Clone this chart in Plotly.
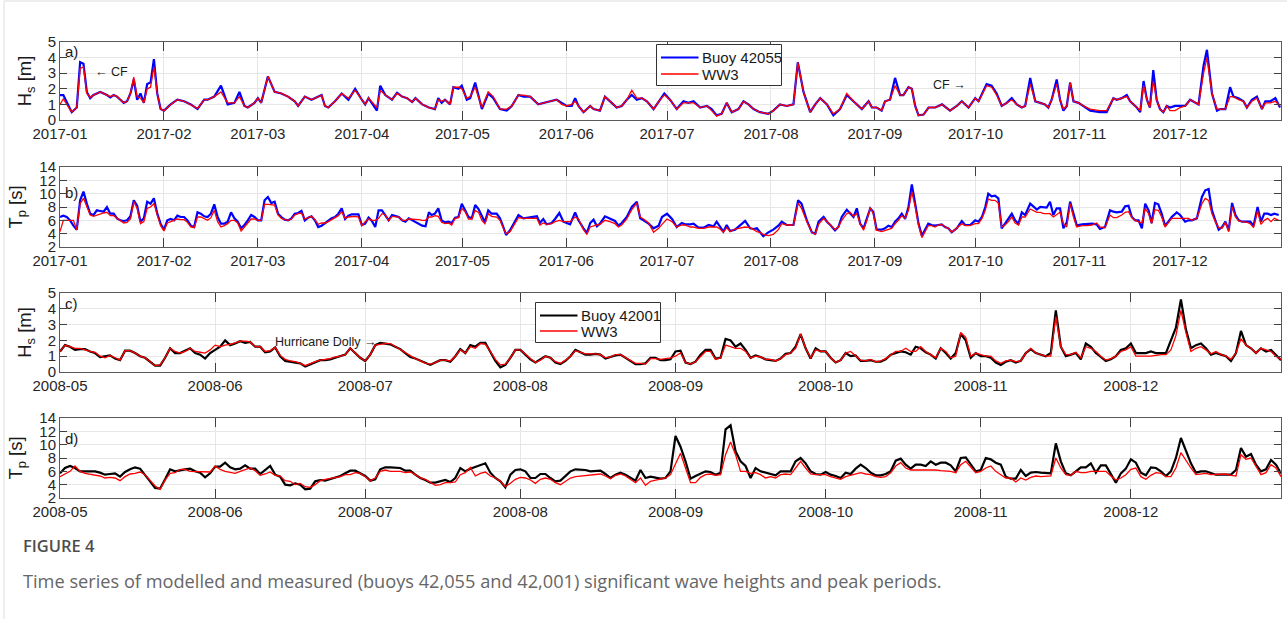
import pandas as pd
import plotly.graph_objects as go

# ---------------- Panel a: Hs, 2017, Buoy 42055 vs WW3 (day offsets from 2017-01-01)
a_day = [0, 1, 3.5, 5, 6, 7, 8, 9, 10, 12, 14, 15, 16, 17, 18, 19, 20, 21, 22, 23, 24, 25, 26, 27, 28, 29, 30, 31,
         33, 35, 37, 39, 41, 43, 44, 46, 48, 50, 52, 53.5, 55, 56, 58, 59, 60, 62, 64, 66, 68, 70, 71, 73, 75, 77, 78,
         79, 80, 82, 84, 86, 88, 90, 91, 92, 94.5, 95.5, 97, 99, 100.5, 102, 103.5, 105, 106, 108, 110,
         111.8, 112.8, 113.8, 114.8, 116.3, 117.3, 118.8, 119.8, 121.3, 122.3, 123.8, 124.8, 125.8, 127.7, 129.2,
         131.2, 133.2, 134.7, 136.7, 138.2, 140.2, 142.6, 144.6, 146.6, 148.1, 149.6, 151.1, 152.6, 153.6, 154.6,
         156.1, 158.1, 159.1, 161.0, 162.5, 164.5, 166.0, 167.5, 169.0, 170.5, 172.0, 173.5, 175.0, 177.0, 178.5,
         180.2, 181.9, 183.9, 185.9, 187.4, 188.9, 190.9, 192.9, 194.3, 195.8, 197.3, 198.8, 200.3, 202.3, 203.8,
         205.3, 206.8, 208.7, 211.2, 212.7, 214.7, 216.7, 218.7, 220.0, 221.7, 223.7, 225.2, 226.7, 228.7, 230.6,
         232.6, 234.6,
         236.6, 239.1, 241.1, 242.1, 243.5, 245.0, 246.0, 247.5, 249.0, 250.5, 251.5, 253.0, 254.0, 255.0, 256.0,
         257.5, 259.0, 261.0, 263.0, 265.4, 267.4, 268.9, 270.9, 272.9, 273.9, 276.3, 277.8, 279.3, 280.8, 282.3,
         283.8, 285.3, 286.8, 287.8, 289.3, 290.8, 292.3, 293.7, 294.7, 295.7, 297.2, 298.2, 299.2, 300.2, 301.2,
         302.2, 303.7, 305.2, 307.2, 310.1, 312.1, 314.1, 315.1, 316.6, 318.1, 319.1, 321.1, 322.1, 323.1, 324.1,
         325.0, 326.0, 327.0, 328.0, 329.0, 330.0, 331.0, 332.5, 334.0, 335.5, 337.0, 338.0, 339.5, 341.0, 342.0,
         343.5, 345.0, 346.0, 347.5, 348.9, 349.9, 351.4, 352.9, 353.9, 355.4, 356.9, 358.4, 359.4, 360.9, 362.4,
         363.8]
a_buoy = [1.6, 1.6, 0.5, 0.8, 3.7, 3.6, 1.8, 1.4, 1.6, 1.8, 1.6, 1.45, 1.6, 1.5, 1.3, 1.1, 1.2, 1.7, 2.6, 1.3, 1.7,
          1.1, 2.3, 2.4, 3.9, 1.7, 0.7, 0.6,
          1.0, 1.3, 1.2, 1.0, 0.7, 1.3, 1.3, 1.5, 2.2, 1.0, 1.1, 1.8, 0.9, 0.8, 1.1, 1.4, 1.1, 2.8, 1.8, 1.7, 1.5,
          1.2, 0.9, 1.5, 1.3, 1.5, 1.6,
          0.9, 0.8, 1.2, 1.7, 1.3, 2.0, 1.3, 1.0, 1.4, 0.6, 2.2, 1.6, 1.3, 1.75, 1.5, 1.4, 1.15, 1.4, 1.0, 0.8,
          0.7, 1.4, 1.1, 1.3, 1.0, 2.1, 2.0, 2.2, 1.3, 1.4, 2.4, 1.5, 0.7, 1.7, 1.4,
          0.7, 0.6, 0.9, 1.6, 1.5, 1.5, 1.0, 1.1, 1.2, 1.3, 1.1, 0.9, 0.9, 1.4, 0.9,
          0.5, 0.9, 0.7, 0.6, 1.5, 1.1, 0.8, 0.9, 1.3, 1.6, 1.3, 1.4, 1.2, 0.7, 1.2,
          1.7, 1.3, 0.7, 1.2, 1.1, 1.2, 0.8, 0.9, 0.7, 0.3, 0.4, 1.1, 0.5, 0.7, 1.2,
          1.0, 0.7, 0.5, 0.4, 0.6, 1.0, 0.9, 1.0, 3.7, 1.8, 0.5, 1.0, 1.4, 1.0, 0.3,
          0.7, 1.6,
          1.2, 0.7, 1.2, 0.8, 0.8, 0.6, 1.2, 1.3, 2.7, 1.6, 1.6, 2.1, 2.0, 0.9, 0.3,
          0.35, 0.8, 0.8, 1.0, 0.6, 0.9, 1.2, 0.8, 1.4, 1.2, 2.3, 2.2, 1.7, 0.9, 1.1,
          1.4, 1.0, 0.8, 0.9, 2.7, 1.2, 1.1, 1.0, 0.8, 1.3, 2.6, 1.3, 0.6, 0.9, 2.4,
          1.2, 1.1, 0.9, 0.6, 0.5, 0.5, 1.4, 1.3, 1.4, 1.6, 1.2, 0.8, 0.5, 2.5, 1.3,
          0.8, 3.2, 1.3, 0.7, 0.5, 0.9, 0.8, 0.9, 0.9, 0.9, 1.3, 1.2, 1.0, 3.5, 4.5,
          1.7, 0.6, 0.7, 0.7, 2.1, 1.5, 1.4, 1.2, 0.8, 1.3, 1.5, 0.7, 1.2, 1.2, 1.4,
          0.8]
a_ww3 = [1.0, 1.35, 0.5, 0.8, 3.3, 3.4, 1.7, 1.45, 1.6, 1.8, 1.6, 1.5, 1.6, 1.5, 1.3, 1.1, 1.2, 1.7, 2.75, 1.5, 1.4,
         1.1, 2.0, 2.1, 3.4, 1.7, 0.7, 0.6,
         1.0, 1.3, 1.2, 1.0, 0.75, 1.3, 1.3, 1.5, 1.8, 1.1, 1.1, 1.5, 0.9, 0.8, 1.1, 1.4, 1.1, 2.8, 1.8, 1.7, 1.5,
         1.2, 0.9, 1.5, 1.3, 1.5, 1.6,
         0.9, 0.8, 1.2, 1.7, 1.4, 1.9, 1.3, 1.0, 1.4, 0.8, 1.9, 1.6, 1.3, 1.7, 1.5, 1.4, 1.15, 1.4, 1.0, 0.8,
         0.7, 1.3, 1.2, 1.3, 1.0, 2.1, 2.1, 2.0, 1.4, 1.5, 2.1, 1.5, 0.8, 1.8, 1.5,
         0.7, 0.7, 0.9, 1.6, 1.6, 1.5, 1.0, 1.1, 1.2, 1.3, 1.0, 0.9, 1.0, 1.2, 0.9,
         0.5, 0.9, 0.7, 0.6, 1.5, 1.1, 0.8, 0.9, 1.3, 1.9, 1.4, 1.4, 1.2, 0.7, 1.2,
         1.6, 1.3, 0.7, 1.1, 1.1, 1.1, 0.8, 0.9, 0.6, 0.25, 0.4, 1.1, 0.5, 0.7, 1.2,
         1.0, 0.7, 0.5, 0.4, 0.6, 1.0, 0.9, 1.0, 3.7, 1.8, 0.5, 1.0, 1.4, 1.0, 0.4,
         0.7, 1.7,
         1.2, 0.7, 1.2, 0.8, 0.8, 0.6, 1.2, 1.3, 2.2, 1.6, 1.6, 2.1, 2.0, 0.9, 0.3,
         0.35, 0.8, 0.8, 1.0, 0.6, 0.9, 1.2, 0.8, 1.4, 1.2, 2.2, 2.1, 1.6, 0.9, 1.1,
         1.3, 1.0, 0.8, 0.9, 2.3, 1.2, 1.1, 1.0, 0.8, 1.3, 2.3, 1.3, 0.7, 0.9, 2.4,
         1.2, 1.1, 0.9, 0.7, 0.6, 0.6, 1.4, 1.3, 1.4, 1.5, 1.2, 0.8, 0.6, 2.2, 1.3,
         0.8, 2.5, 1.3, 0.7, 0.5, 0.9, 0.6, 0.6, 0.8, 0.9, 1.3, 1.2, 1.0, 3.0, 4.0,
         1.7, 0.7, 0.7, 0.7, 1.5, 1.5, 1.3, 1.2, 0.8, 1.2, 1.4, 0.7, 1.1, 1.1, 1.2,
         0.9]

# ---------------- Panel b: Tp, 2017
b_day = list(range(0, 111)) + [
    110.8, 111.8, 112.8, 113.8, 114.8, 115.8, 116.8, 117.8, 118.8, 119.8, 120.8, 121.8, 122.8, 123.8, 124.8,
    125.8, 126.7, 127.7, 128.7, 130.2, 131.2, 132.2, 133.0, 134.2, 135.7, 136.7, 138.2, 139.7, 141.2, 142.2,
    143.1, 144.1, 145.1, 146.6, 147.6, 148.9, 150.1, 151.1, 152.1, 153.6, 154.6, 156.1, 157.1, 158.1, 159.1,
    160.1, 161.0, 162.5, 164.0, 165.5, 166.5, 167.5, 169.0, 170.5, 172.0, 173.0, 174.0, 175.5, 177.0, 178.5,
    179.5, 181.0, 182.5, 183.9, 185.4, 186.4, 187.9, 188.9, 190.4, 191.9, 193.4, 194.9, 195.8, 196.8, 197.8,
    198.8, 199.8, 201.3, 202.8, 204.3, 205.8, 206.8, 207.8, 208.7, 209.7, 211.2, 212.7, 214.2, 215.2, 216.7,
    218.7, 220.1, 221.1, 222.7, 224.2, 225.2, 226.2, 227.7, 228.7, 229.7, 231.1, 232.1, 233.1, 234.6,
    235.6, 236.6, 237.6, 238.6, 239.6, 240.6, 241.6, 242.5, 243.5, 245.0, 246.0, 247.0, 248.0, 249.0, 250.0,
    251.0, 252.0, 253.0, 254.0, 255.0, 256.0, 257.0, 257.9, 258.9, 259.9, 260.9, 261.9, 262.9, 263.9, 264.9,
    265.9, 267.4, 268.9, 269.9, 271.4, 272.9, 273.9, 274.9, 275.9, 276.8, 277.8, 278.8, 279.8, 280.8, 281.8,
    282.8, 283.8, 284.8, 285.8, 286.8, 287.8, 289.3, 290.3, 291.3, 292.3, 293.3, 294.2, 295.2, 296.2, 297.2,
    298.2, 299.2, 300.2, 301.2, 302.2, 303.2, 304.7, 306.2, 307.7, 309.1, 310.1, 311.6, 313.1, 314.1, 315.1,
    316.6, 317.6, 318.6, 319.6, 320.6, 321.6, 322.6, 323.6, 324.6, 325.5, 326.5, 327.5, 328.5, 329.5, 330.5,
    331.5, 333.0, 334.0, 335.5, 336.5, 337.5, 339.0, 340.5, 341.5, 342.5, 343.5, 344.5, 345.5, 346.5, 347.5,
    348.5, 349.5, 350.5, 351.5, 352.5, 354.0, 354.9, 355.9, 357.1, 358.1, 359.1, 360.1, 361.1, 362.1, 363.4]
b_buoy = [6.5, 6.7, 6.5, 6.0, 5.2, 4.6, 9.0, 10.3, 8.5, 7.0,
          6.8, 7.5, 7.4, 7.3, 8.0, 7.0, 7.0, 6.3, 6.0, 5.9,
          6.0, 6.6, 9.0, 8.2, 5.8, 6.3, 8.8, 8.5, 9.3, 7.0,
          5.5, 4.6, 6.0, 6.2, 6.0, 6.7, 6.5, 6.5, 6.0, 5.2,
          5.0, 7.2, 7.0, 6.6, 6.5, 7.0, 8.4, 6.5, 5.5, 5.5,
          5.8, 7.2, 6.3, 5.8, 4.8, 5.3, 6.0, 6.8, 6.5, 6.0,
          6.0, 9.0, 9.5, 8.6, 8.8, 7.0, 6.5, 6.1, 6.0, 6.3,
          7.0, 7.1, 7.4, 6.0, 6.4, 6.6, 6.0, 5.0, 5.2, 5.6,
          5.9, 6.3, 6.5, 7.0, 7.8, 6.2, 6.7, 6.9, 6.9, 6.9,
          5.3, 5.5, 6.4, 5.9, 5.0, 7.5, 7.5, 6.8, 6.0, 6.8,
          6.6, 6.5, 6.0, 5.8, 6.3, 6.0, 5.8, 5.5, 5.2, 5.1, 7.2,
          6.8, 7.0, 7.8, 6.0, 5.7, 5.8, 5.6, 6.4, 6.5, 8.5, 7.5, 6.5, 6.3, 8.3, 7.7,
          6.5, 5.7, 7.5, 7.0, 7.0, 6.3, 5.0, 3.8, 4.5, 5.8, 6.8, 6.3, 6.4, 6.5, 6.6,
          5.6, 6.2, 5.4, 5.6, 6.2, 7.1, 5.8, 5.6, 5.4, 7.2, 6.0, 4.8, 4.1, 5.6, 6.1,
          5.1, 5.5, 6.6, 6.2, 5.9, 5.2, 5.6, 6.5, 8.0, 8.8, 6.3, 6.0, 5.5, 4.8, 5.2,
          6.5, 7.0, 6.2, 5.0, 5.6, 5.4, 5.4, 5.5, 4.9, 4.9, 5.3, 5.1, 5.8, 5.0, 4.3,
          5.3, 4.4, 4.6, 5.3, 5.9, 4.8, 4.7, 4.8, 4.3, 3.6, 4.2, 4.6, 5.2, 5.8, 5.3,
          5.3, 9.0, 8.5, 6.0, 4.2, 4.0, 5.8, 6.5, 5.8, 5.3, 4.5, 5.0, 6.5, 7.6,
          7.0, 6.5, 7.8, 5.5, 4.8, 6.2, 7.8, 7.3, 4.6, 4.6, 4.8, 5.2, 5.0, 5.8, 6.3,
          7.0, 6.2, 8.0, 11.4, 8.5, 5.5, 3.7, 4.5, 5.5, 5.3, 5.2, 5.3, 5.4, 5.0, 4.8,
          4.2, 4.8, 5.9, 5.3, 5.3, 6.0, 5.8, 6.5, 8.0, 10.0, 9.6, 9.7, 9.3, 4.8, 5.5,
          6.2, 7.0, 6.0, 5.5, 7.2, 6.8, 8.5, 8.0, 7.6, 8.0, 7.9, 7.9, 8.8, 6.8, 7.8,
          7.8, 4.8, 5.7, 8.8, 7.0, 5.2, 5.4, 5.5, 5.5, 5.4, 4.7, 5.0, 7.5, 7.3, 7.2,
          7.3, 8.1, 8.2, 6.5, 6.0, 6.0, 4.8, 8.5, 7.5, 5.6, 8.6, 8.4, 7.0, 5.2, 5.8,
          6.5, 7.2, 6.8, 5.8, 6.0, 6.0, 6.3, 9.5, 10.5, 10.7, 7.5, 6.0, 4.6, 5.0, 5.8,
          4.5, 8.6, 6.8, 6.0, 5.8, 5.8, 5.8, 5.2, 8.0, 5.8, 7.0, 7.0, 6.8, 7.0, 6.8]
b_ww3 = [4.3, 6.0, 6.0, 6.0, 6.0, 4.6, 8.5, 9.3, 8.0, 6.8,
         6.6, 6.8, 7.0, 7.1, 7.2, 6.7, 6.7, 6.3, 5.9, 5.6,
         5.7, 6.2, 8.8, 7.8, 5.5, 5.8, 7.8, 8.0, 8.5, 6.8,
         5.2, 4.4, 5.6, 5.8, 6.0, 6.2, 6.1, 6.1, 5.7, 5.0,
         4.9, 6.5, 6.5, 6.3, 6.0, 6.4, 7.5, 5.8, 5.0, 5.2,
         5.5, 6.0, 6.0, 5.6, 4.4, 5.0, 5.6, 6.2, 6.2, 6.0,
         6.0, 8.4, 8.4, 8.4, 8.3, 6.8, 6.3, 6.1, 6.0, 6.2,
         6.8, 7.0, 7.1, 6.2, 6.4, 6.6, 6.1, 5.4, 5.6, 5.6,
         5.8, 6.1, 6.4, 6.7, 7.3, 6.3, 6.5, 6.6, 6.6, 6.5,
         5.2, 5.8, 6.2, 6.0, 6.0, 6.3, 7.0, 6.8, 6.0, 6.6,
         6.6, 6.5, 6.0, 6.0, 6.2, 6.2, 6.2, 6.1, 6.0, 6.0, 6.5,
         6.5, 6.7, 6.6, 5.7, 5.5, 5.6, 5.3, 6.3, 6.4, 7.8, 7.3, 6.2, 6.2, 7.5, 7.2,
         6.0, 5.5, 7.0, 6.6, 6.5, 6.0, 4.8, 4.0, 4.3, 5.6, 6.4, 6.3, 6.3, 6.4, 6.3,
         5.3, 5.6, 5.4, 5.5, 5.8, 6.0, 5.8, 5.8, 5.8, 6.5, 6.2, 4.6, 3.9, 5.0, 5.2,
         5.3, 5.4, 6.0, 5.8, 5.5, 5.0, 5.3, 6.2, 7.6, 8.6, 6.5, 6.2, 5.6, 4.2, 4.8,
         5.4, 6.2, 5.8, 5.0, 5.3, 5.3, 5.0, 5.0, 4.8, 4.8, 5.0, 5.0, 5.0, 4.7, 4.2,
         4.9, 4.3, 4.7, 4.8, 5.0, 4.9, 4.6, 4.3, 4.2, 3.9, 3.7, 3.9, 4.6, 5.5, 5.3,
         5.3, 8.6, 7.8, 5.8, 4.2, 3.9, 5.4, 6.3, 5.8, 5.2, 4.6, 5.0, 6.0, 7.0,
         7.2, 6.6, 7.0, 5.5, 4.5, 6.0, 7.9, 7.0, 4.5, 4.3, 4.5, 4.7, 4.8, 5.5, 6.0,
         6.7, 6.3, 7.5, 10.3, 8.0, 5.3, 3.4, 4.3, 5.2, 5.2, 5.0, 5.3, 5.4, 5.0, 4.8,
         4.2, 4.8, 5.5, 5.2, 5.2, 5.5, 5.5, 6.3, 7.5, 9.2, 9.0, 9.0, 8.6, 5.0, 5.3,
         5.8, 6.5, 5.6, 5.3, 6.5, 6.5, 7.7, 7.5, 7.2, 7.2, 7.0, 7.0, 7.0, 6.5, 6.8,
         7.2, 5.5, 5.0, 8.5, 6.5, 5.0, 5.2, 5.2, 5.3, 5.6, 5.0, 4.9, 6.8, 6.4, 6.4,
         6.8, 7.2, 7.3, 6.4, 6.0, 5.8, 5.6, 7.8, 7.0, 5.5, 7.6, 7.5, 6.5, 5.0, 5.6,
         6.3, 6.3, 6.3, 6.3, 6.3, 6.0, 6.3, 8.5, 9.3, 9.0, 7.0, 5.8, 4.9, 4.8, 5.7,
         4.3, 8.0, 6.5, 5.9, 5.8, 5.7, 5.5, 4.9, 7.4, 5.4, 6.0, 6.3, 5.8, 6.3, 6.0]

# ---------------- Panel c: Hs, 2008 (daily from 2008-05-01), Buoy 42001 vs WW3
c_start = "2008-05-01"
c_buoy = [1.3, 1.7, 1.6, 1.4, 1.45, 1.45, 1.3, 1.2, 0.95, 1.0, 1.05, 0.85, 0.75, 1.35, 1.35, 1.2, 1.0, 0.9, 0.65, 0.4,
          0.4, 0.9, 1.5, 1.2, 1.2, 1.35, 1.5, 1.2, 1.1, 0.85, 1.2, 1.4, 1.6, 2.0, 1.7, 1.8, 1.95, 1.85, 1.9, 1.6,
          1.6, 1.25, 1.3, 1.55, 1.0, 0.7, 0.65, 0.6, 0.55, 0.35, 0.5, 0.6, 0.75, 0.75, 0.8, 0.9, 1.0, 1.1, 1.5, 1.2,
          0.9, 0.7, 1.1, 1.7, 1.85, 1.8, 1.75, 1.6, 1.45, 1.2, 0.95, 0.85, 0.7, 0.55, 0.45,
          0.6, 0.75, 0.75, 0.65, 1.0, 1.45, 1.2, 1.7, 1.6, 1.85, 1.85, 1.3, 0.7, 0.3, 0.45, 0.9, 1.4, 1.4, 1.1, 0.8,
          0.6, 0.8, 1.0, 0.9, 0.6, 0.5, 0.7, 1.0, 1.4, 1.25, 1.1, 1.1, 1.15, 1.1, 0.85, 0.95, 1.05, 1.1, 0.9, 0.7,
          0.5, 0.5, 0.55, 0.9, 0.9, 0.75, 0.75, 0.8, 1.3, 1.35, 0.6, 0.5, 0.65, 1.1, 1.4, 1.4, 0.85, 0.9, 2.1, 2.0,
          1.6, 1.8, 1.4, 0.9, 1.05, 0.95, 0.8, 0.75, 0.7, 0.85, 1.15, 1.2, 1.6, 2.4, 1.5, 0.85, 1.5, 1.3, 1.3, 0.9,
          0.6, 0.75, 1.2, 1.0,
          1.05, 0.7, 0.7, 0.75, 0.65, 0.65, 0.8, 1.1, 1.2, 1.3, 1.25, 1.1, 1.6, 1.5, 1.25, 1.1, 0.85, 1.5, 1.2, 0.85,
          1.2, 2.4, 2.0, 0.9, 1.2, 1.0, 1.0, 0.9, 0.6, 0.45, 0.65, 0.75, 0.6, 0.7, 1.2, 1.45, 1.2, 1.1, 1.0, 1.2,
          3.9, 1.6, 1.0, 1.1, 1.2, 0.8, 1.8, 1.6, 1.2, 0.95, 0.7, 0.8, 1.0, 1.4, 1.5, 1.8, 1.2, 1.2, 1.2, 1.3,
          1.2, 1.2, 1.2, 2.0, 2.8, 4.6, 2.7, 1.5, 1.7, 1.8, 1.5, 1.1, 1.2, 1.1, 1.0, 0.7, 1.2, 2.6, 1.7, 1.5,
          1.2, 1.5, 1.3, 1.4, 1.1, 0.75]
c_ww3 = [1.3, 1.7, 1.6, 1.5, 1.5, 1.4, 1.3, 1.25, 1.0, 0.9, 1.05, 0.9, 0.75, 1.35, 1.35, 1.2, 1.0, 0.9, 0.65, 0.4,
         0.45, 0.9, 1.5, 1.3, 1.2, 1.3, 1.5, 1.3, 1.25, 1.2, 1.4, 1.7, 1.6, 1.7, 1.75, 1.85, 1.95, 1.95, 1.9, 1.6,
         1.6, 1.3, 1.35, 1.55, 1.05, 0.8, 0.7, 0.65, 0.55, 0.4, 0.55, 0.65, 0.75, 0.8, 0.85, 0.95, 1.0, 1.1, 1.5, 1.2,
         0.9, 0.7, 1.1, 1.7, 1.75, 1.8, 1.8, 1.6, 1.45, 1.2, 1.0, 0.85, 0.7, 0.55, 0.5,
         0.6, 0.75, 0.75, 0.7, 1.0, 1.4, 1.2, 1.6, 1.5, 1.8, 1.75, 1.3, 0.8, 0.45, 0.5, 0.9, 1.4, 1.4, 1.1, 0.85,
         0.6, 0.75, 1.0, 0.9, 0.65, 0.55, 0.75, 1.0, 1.35, 1.25, 1.15, 1.15, 1.15, 1.1, 0.9, 0.95, 1.1, 1.1, 0.9, 0.75,
         0.55, 0.55, 0.5, 0.85, 0.85, 0.8, 0.85, 0.9, 1.0, 1.2, 0.6, 0.5, 0.65, 1.0, 1.3, 1.3, 0.8, 0.9, 1.7, 1.6,
         1.5, 1.5, 1.3, 0.9, 1.0, 0.95, 0.8, 0.8, 0.7, 0.85, 1.1, 1.2, 1.5, 2.4, 1.5, 0.9, 1.4, 1.3, 1.3, 0.9,
         0.6, 0.75, 1.2, 1.3,
         1.0, 0.75, 0.7, 0.8, 0.65, 0.7, 0.85, 1.05, 1.3, 1.3, 1.5, 1.3, 1.3, 1.6, 1.3, 1.1, 0.9, 1.5, 1.3, 0.9,
         1.0, 2.5, 2.2, 1.0, 1.2, 1.1, 1.0, 1.0, 0.7, 0.55, 0.7, 0.75, 0.65, 0.7, 1.2, 1.5, 1.2, 1.1, 1.0, 1.0,
         3.5, 1.6, 1.1, 1.1, 1.25, 0.9, 1.6, 1.5, 1.3, 1.0, 0.75, 0.85, 1.0, 1.3, 1.4, 1.6, 1.0, 1.0, 1.0, 1.0,
         1.05, 1.1, 1.1, 1.4, 2.3, 3.9, 2.5, 1.3, 1.5, 1.6, 1.4, 1.15, 1.3, 1.1, 1.0, 0.8, 1.2, 2.1, 1.7, 1.5,
         1.2, 1.5, 1.4, 1.3, 1.0, 0.8]

# ---------------- Panel d: Tp, 2008 (daily from 2008-05-01)
d_buoy = [5.7, 6.5, 6.8, 6.5, 6.0, 6.0, 6.0, 6.0, 5.8, 5.5, 5.6, 5.7, 5.2, 5.9, 6.3, 6.6, 6.4, 5.5, 4.5, 3.5,
          3.4, 4.8, 6.3, 6.0, 6.2, 6.3, 6.4, 6.0, 5.8, 5.1, 5.7, 6.7, 6.7, 7.3, 6.6, 6.3, 6.4, 6.9, 6.4, 6.4,
          5.6, 6.2, 6.8, 5.5, 5.2, 4.0, 3.9, 4.2, 4.0, 3.3, 3.4, 4.5, 4.7, 4.6, 4.8, 5.0, 5.3, 5.7, 6.1, 6.1,
          5.7, 5.3, 4.6, 4.8, 6.3, 6.6, 6.6, 6.6, 6.5, 6.1, 6.1, 5.5, 5.0, 4.7, 4.3,
          4.3, 4.5, 4.7, 4.4, 5.0, 6.5, 6.0, 6.4, 6.7, 7.0, 7.2, 5.8, 5.0, 4.5, 3.6, 5.5, 6.2, 6.3, 6.0, 5.0,
          5.0, 5.6, 5.6, 5.0, 4.5, 4.6, 5.3, 6.0, 6.3, 6.3, 6.2, 6.0, 6.1, 6.1, 5.6, 5.0, 5.5, 5.8, 5.5, 5.0,
          4.6, 6.2, 5.0, 5.2, 5.0, 4.9, 5.0, 6.0, 11.3, 9.7, 7.5, 4.9, 5.3, 5.6, 6.0, 5.9, 5.5, 5.8, 12.3, 12.9,
          9.0, 7.5, 6.8, 5.0, 6.5, 6.0, 5.8, 5.5, 5.4, 6.0, 6.0, 6.0, 7.5, 8.0, 7.2, 6.0, 5.6, 5.5, 5.9, 5.5,
          5.3, 5.0, 5.8, 5.6,
          6.4, 7.0, 6.5, 5.8, 5.4, 5.4, 5.6, 6.0, 7.6, 7.9, 7.0, 6.4, 7.0, 7.0, 6.8, 7.5, 7.0, 7.3, 7.3, 6.9,
          6.0, 8.0, 8.1, 7.0, 6.0, 6.2, 8.0, 7.8, 7.3, 7.0, 5.2, 4.9, 4.9, 6.2, 5.3, 5.8, 5.9, 5.8, 5.7, 5.7,
          10.2, 7.5, 5.7, 5.4, 6.0, 6.6, 6.6, 7.2, 5.8, 6.9, 6.9, 5.6, 4.3, 5.7, 6.4, 7.8, 7.3, 5.8, 5.4, 6.6,
          6.5, 6.0, 5.3, 6.0, 8.0, 11.0, 9.2, 7.2, 5.8, 6.0, 6.0, 5.8, 5.5, 5.5, 5.5, 5.5, 6.2, 9.5, 8.2, 8.6,
          7.0, 6.0, 6.3, 7.7, 7.0, 5.7]
d_ww3 = [5.2, 5.6, 6.0, 6.8, 6.0, 5.7, 5.6, 5.4, 5.3, 5.0, 5.1, 5.0, 4.6, 5.2, 5.6, 5.7, 5.9, 5.5, 4.6, 3.8,
         3.3, 4.7, 5.7, 5.8, 6.3, 6.3, 6.0, 6.0, 6.0, 5.9, 5.9, 6.8, 6.3, 6.0, 5.8, 5.7, 6.0, 6.3, 6.5, 6.1,
         5.4, 5.6, 5.9, 5.4, 5.3, 4.6, 4.5, 4.0, 4.2, 3.7, 3.6, 4.0, 4.6, 4.8, 4.9, 5.0, 5.2, 5.5, 5.5, 5.8,
         5.7, 5.2, 4.6, 5.0, 6.0, 6.2, 6.0, 6.0, 6.0, 5.8, 5.9, 5.5, 5.0, 4.8, 4.3,
         3.9, 4.0, 4.3, 4.3, 4.4, 5.5, 5.8, 6.6, 5.3, 5.7, 5.9, 5.3, 5.0, 4.5, 3.7, 4.2, 4.8, 5.1, 5.0, 4.7,
         4.2, 4.8, 5.0, 4.8, 4.3, 4.0, 4.5, 5.0, 5.2, 5.3, 5.3, 5.5, 5.5, 5.6, 5.3, 4.9, 5.4, 5.6, 5.3, 4.8,
         4.3, 5.0, 3.9, 4.5, 4.7, 4.9, 5.0, 5.5, 7.0, 8.7, 6.5, 4.3, 4.3, 5.1, 5.5, 5.6, 5.4, 5.5, 8.5, 10.4,
         8.5, 6.0, 6.0, 5.7, 5.8, 5.5, 5.0, 5.2, 5.0, 5.5, 5.6, 5.5, 6.5, 7.5, 6.5, 5.6, 5.5, 5.5, 5.5, 5.2,
         5.0, 4.8, 5.2, 5.4,
         5.6, 5.8, 5.6, 5.5, 5.2, 5.1, 5.2, 5.8, 6.8, 7.3, 6.5, 6.2, 6.2, 6.2, 6.2, 6.3, 6.2, 6.1, 6.1, 6.0,
         5.8, 7.0, 7.5, 6.6, 5.8, 6.0, 6.5, 6.8, 6.0, 5.5, 5.0, 5.0, 4.4, 5.0, 4.7, 5.1, 5.3, 5.2, 5.2, 5.3,
         8.0, 6.5, 5.5, 5.4, 6.0, 5.8, 5.8, 6.0, 6.0, 6.0, 6.0, 5.3, 4.7, 5.0, 5.5, 6.3, 6.5, 5.2, 4.8, 5.4,
         5.8, 5.7, 5.2, 5.2, 6.5, 8.8, 7.6, 6.5, 5.5, 5.6, 5.7, 5.5, 5.5, 5.5, 5.6, 5.4, 5.3, 8.5, 7.8, 8.0,
         6.8, 5.5, 5.8, 7.0, 6.5, 5.2]

ticks_2017 = ["2017-%02d" % m for m in range(1, 13)]
ticks_2008 = ["2008-%02d" % m for m in range(5, 13)]
legend_a = ["Buoy 42055", "WW3"]
legend_c = ["Buoy 42001", "WW3"]

t0_2017 = pd.Timestamp("2017-01-01")
a_x = t0_2017 + pd.to_timedelta(a_day, unit="D")
b_x = t0_2017 + pd.to_timedelta(b_day, unit="D")
c_x = pd.date_range(c_start, periods=len(c_buoy), freq="D")
d_x = pd.date_range(c_start, periods=len(d_buoy), freq="D")

BLUE, RED, BLACK = "#0000ff", "#ff0000", "#000000"
WB, WR = 2.2, 1.3
W, H = 1287, 619

fig = go.Figure()
series = [(a_x, a_buoy, a_ww3, BLUE, "", legend_a), (b_x, b_buoy, b_ww3, BLUE, "2", legend_a),
          (c_x, c_buoy, c_ww3, BLACK, "3", legend_c), (d_x, d_buoy, d_ww3, BLACK, "4", legend_c)]
for xs, yb, yw, col, sfx, names in series:
    fig.add_trace(go.Scatter(x=xs, y=yb, mode="lines", line=dict(color=col, width=WB), name=names[0],
                             showlegend=False, xaxis="x" + sfx, yaxis="y" + sfx))
    fig.add_trace(go.Scatter(x=xs, y=yw, mode="lines", line=dict(color=RED, width=WR), name=names[1],
                             showlegend=False, xaxis="x" + sfx, yaxis="y" + sfx))


def py(px):
    return 1 - px / H


def pxx(px):
    return px / W


XDOM = [pxx(60), pxx(1281)]
panels = [(42, 120), (167, 247), (293, 372), (418, 498)]  # top, bottom in pixels
label_y = [51, 192, 303, 438]

axfont = dict(family="Liberation Sans, Arial", size=15, color="#262626")
common = dict(showline=True, linecolor="#5a5a5a", linewidth=1, mirror="ticks", ticks="inside",
              tickcolor="#404040", showgrid=True, gridcolor="#e6e6e6", gridwidth=1, zeroline=False,
              tickfont=axfont, fixedrange=True, automargin=False)

layout = dict(width=W, height=H, margin=dict(l=0, r=0, t=0, b=0, autoexpand=False),
              plot_bgcolor="white", paper_bgcolor="white", showlegend=False,
              font=dict(family="Liberation Sans, Arial", color="#262626"))

xranges = [["2017-01-01", "2017-12-31 02:00"], ["2017-01-01", "2017-12-31 02:00"],
           ["2008-05-01", "2008-12-31"], ["2008-05-01", "2008-12-31"]]
xticks = [ticks_2017, ticks_2017, ticks_2008, ticks_2008]
yranges = [[0, 5], [2, 14], [0, 5], [2, 14]]
ydtick = [1, 2, 1, 2]
ytitles = ["H<sub>s</sub> [m]", "T<sub>p</sub> [s]", "H<sub>s</sub> [m]", "T<sub>p</sub> [s]"]

for i, (top, bot) in enumerate(panels):
    sfx = "" if i == 0 else str(i + 1)
    layout["xaxis" + sfx] = dict(common, domain=XDOM, anchor="y" + sfx, range=xranges[i],
                                 tickvals=[t + "-01" for t in xticks[i]], ticktext=xticks[i],
                                 ticklen=9)
    layout["yaxis" + sfx] = dict(common, domain=[py(bot), py(top)], anchor="x" + sfx,
                                 range=yranges[i], dtick=ydtick[i], tick0=0, ticklen=7,
                                 title=dict(text=ytitles[i], font=dict(size=18.5, color="#1a1a1a"),
                                            standoff=11))

ann = []
shapes = []
for lab, ly in zip(["a)", "b)", "c)", "d)"], label_y):
    ann.append(dict(text=lab, x=pxx(63), y=py(ly), xref="paper", yref="paper", xanchor="left",
                    yanchor="middle", showarrow=False, font=dict(size=15, color="#1a1a1a")))

# legend boxes (drawn by hand to match the compact MATLAB legend)
for (x0, x1, y0, y1), names, col in [((656.5, 781.5, 44.5, 85.5), legend_a, BLUE),
                                     ((535.5, 660.5, 302.5, 342.5), legend_c, BLACK)]:
    shapes.append(dict(type="rect", xref="paper", yref="paper", x0=pxx(x0), x1=pxx(x1), y0=py(y1), y1=py(y0),
                       line=dict(color="#333333", width=1), fillcolor="white", layer="above"))
    rows = [y0 + 13, y1 - 11.5]
    for (ry, name, c, w) in [(rows[0], names[0], col, WB), (rows[1], names[1], RED, WR)]:
        shapes.append(dict(type="line", xref="paper", yref="paper", x0=pxx(x0 + 4.5), x1=pxx(x0 + 42),
                           y0=py(ry), y1=py(ry), line=dict(color=c, width=w), layer="above"))
        ann.append(dict(text=name, x=pxx(x0 + 43.5), y=py(ry), xref="paper", yref="paper", xanchor="left",
                        yanchor="middle", showarrow=False,
                        font=dict(family="Liberation Sans, Arial", size=15, color="#1a1a1a")))

ann += [
    dict(text="\u2190 CF", x=pxx(93), y=py(72), xref="paper", yref="paper", xanchor="left",
         yanchor="middle", showarrow=False, font=dict(size=12.5, color="#1a1a1a")),
    dict(text="CF \u2192", x=pxx(931), y=py(85), xref="paper", yref="paper", xanchor="left",
         yanchor="middle", showarrow=False, font=dict(size=12.5, color="#1a1a1a")),
    dict(text="Hurricane Dolly \u2192", x=pxx(273), y=py(342), xref="paper", yref="paper",
         xanchor="left", yanchor="middle", showarrow=False, font=dict(size=12.5, color="#1a1a1a")),
    dict(text="FIGURE 4", x=pxx(21), y=py(545), xref="paper", yref="paper", xanchor="left",
         yanchor="middle", showarrow=False,
         font=dict(family="Open Sans", size=16.5, color="#4d4d4d", weight=600)),
    dict(text="Time series of modelled and measured (buoys 42,055 and 42,001) significant wave heights and peak periods.",
         x=pxx(21), y=py(581), xref="paper", yref="paper", xanchor="left", yanchor="middle",
         showarrow=False, font=dict(family="Open Sans", size=18.2, color="#666666")),
]
shapes.append(dict(type="rect", xref="paper", yref="paper", x0=pxx(4), x1=1.01, y0=-0.01, y1=py(1),
                   line=dict(color="#dddddd", width=1), fillcolor="rgba(0,0,0,0)", layer="below"))
layout["annotations"] = ann
layout["shapes"] = shapes

fig.update_layout(**layout)
fig.write_html("out.html")
